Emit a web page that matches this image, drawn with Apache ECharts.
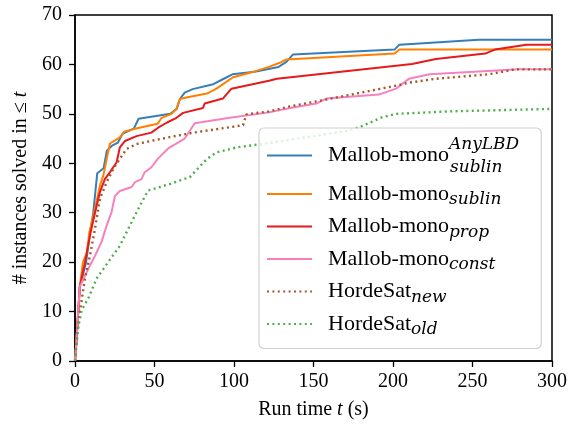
<!DOCTYPE html>
<html>
<head>
<meta charset="utf-8">
<script src="https://cdn.jsdelivr.net/npm/echarts@6/dist/echarts.min.js"></script>
<style>
  html, body { margin: 0; padding: 0; background: #fff; }
  #chart { width: 570px; height: 425px; }
</style>
</head>
<body>
<div id="chart"></div>
<script>
const FONT = "Liberation Serif";
const MATH = "DejaVu Serif";

// run time (s) and number of solved instances
const anyLbdT = [0, 0.5, 3, 7, 9.5, 11.5, 14, 18, 20, 23, 27, 30, 37, 40, 60, 64, 66, 69, 74, 87, 93, 99, 113, 128, 133, 137, 201, 204, 254, 300];
const anyLbdV = [0, 2, 15, 20, 26, 30, 38, 39, 42.5, 43.5, 44.2, 46, 47, 49, 50, 51, 53, 54.3, 55, 56, 57, 58, 58.5, 59.5, 60.5, 62, 63, 64, 65, 65];

const sublinT = [0, 0.5, 3, 5, 7.5, 9, 12, 15.7, 17.8, 20, 22, 28, 31, 37.7, 52, 54.5, 60.7, 63.8, 66, 70, 83, 89, 99.4, 110, 122, 130, 133, 201, 204, 300];
const sublinV = [0, 2, 15, 20, 22, 26, 30, 35.5, 37.5, 41, 44, 45.2, 46.4, 47, 48, 49.2, 50, 51, 53, 53.3, 54.1, 55.1, 57.4, 58.3, 59.5, 60.5, 61, 62.2, 63, 63];

const propT = [0, 0.5, 3, 6.3, 9.8, 12.6, 15.7, 18.8, 22, 26.2, 28.2, 31.4, 38.7, 48, 52.3, 57.6, 63.8, 68, 80.5, 81.6, 93, 98.4, 122, 127, 212, 227, 258, 264, 284, 300];
const propV = [0, 2, 15, 20, 26, 30, 34.2, 36.8, 38.2, 40.2, 43.2, 44.5, 45.5, 46.2, 47.2, 48.2, 49.2, 50.2, 51.2, 52.1, 53.1, 55.1, 56.7, 57.1, 60.1, 61.1, 62.2, 63, 64, 64];

const constT = [0, 0.5, 3, 6.3, 9.4, 12.6, 16.7, 19.9, 23, 25.1, 28.2, 35.6, 37.7, 41.8, 43.9, 48.1, 52.3, 58.6, 69, 75.3, 97.3, 122, 137, 152, 158, 191, 202, 210, 223, 279, 300];
const constV = [0, 2, 15, 17.3, 19.3, 21.3, 24.1, 27.4, 30.1, 33.4, 34.4, 35.2, 36.2, 36.8, 38.2, 39.2, 41, 43, 45, 48.1, 49.2, 50.3, 51.3, 52.1, 53.1, 53.9, 55.1, 57.1, 58, 59, 59];

const hsNewT = [0, 0.5, 2.7, 6.3, 9.4, 12.6, 15.7, 19.9, 25.1, 32.4, 38.7, 59.6, 74.3, 105.7, 107.8, 122, 135, 158, 202, 210, 227, 260, 277, 300];
const hsNewV = [0, 2, 9.3, 16.7, 21.3, 26.8, 32.8, 36.2, 39.4, 42.9, 43.9, 45.3, 46.2, 47.7, 49.9, 50.5, 51.5, 52.9, 55.7, 56.3, 57.1, 58, 59, 59];

const hsOldT = [0, 1.5, 4.2, 8.4, 13.6, 20.9, 28.2, 34.5, 40.8, 46, 59.6, 72.2, 82.7, 89, 101.5, 122, 150, 170, 179, 193, 202, 235, 300];
const hsOldV = [0, 6, 10.3, 12.7, 16.7, 20, 23.3, 27.4, 31.4, 34.5, 35.8, 37.2, 40.8, 42.2, 43.2, 44.1, 45.5, 46.5, 47.3, 49.3, 50, 50.5, 51];

const xTicks = [0, 50, 100, 150, 200, 250, 300];
const yTicks = [0, 10, 20, 30, 40, 50, 60, 70];

// legend labels (rich text)
const labels = {
  "Mallob-mono AnyLBD sublin": "{n|Mallob-mono}{sup|AnyLBD}{sub1|sublin}",
  "Mallob-mono sublin": "{n|Mallob-mono}{sub|sublin}",
  "Mallob-mono prop": "{n|Mallob-mono}{sub|prop}",
  "Mallob-mono const": "{n|Mallob-mono}{sub|const}",
  "HordeSat new": "{n|HordeSat}{sub|new}",
  "HordeSat old": "{n|HordeSat}{sub|old}"
};

const zip = (t, v) => t.map((x, i) => [x, v[i]]);

const mk = (name, t, v, color, dotted) => ({
  name: name,
  type: "line",
  data: zip(t, v),
  symbol: "none",
  color: color,
  lineStyle: {
    color: color,
    width: dotted ? 2.4 : 2,
    type: dotted ? [2, 3.4] : "solid",
    cap: "butt"
  },
  animation: false
});

const mathStyle = (pad, extra) => Object.assign({
  fontFamily: MATH, fontSize: 17, fontStyle: "italic", color: "#000", padding: pad
}, extra || {});

const chart = echarts.init(document.getElementById("chart"));

chart.setOption({
  animation: false,
  textStyle: { fontFamily: FONT },
  grid: {
    left: 75, right: 17, top: 15, bottom: 62,
    show: true, borderColor: "#000", borderWidth: 1.5
  },
  xAxis: {
    type: "value",
    min: xTicks[0], max: xTicks[xTicks.length - 1], interval: 50,
    name: "Run time {i|t} (s)",
    nameLocation: "middle",
    nameGap: 39,
    nameTextStyle: {
      fontFamily: FONT, fontSize: 20, color: "#000",
      rich: { i: { fontFamily: FONT, fontSize: 20, fontStyle: "italic", color: "#000" } }
    },
    axisLine: { lineStyle: { color: "#000", width: 1.5 } },
    axisTick: { length: 6, lineStyle: { color: "#000", width: 1.3 } },
    axisLabel: { fontFamily: FONT, fontSize: 20, color: "#000", margin: 11 },
    splitLine: { show: false }
  },
  yAxis: {
    type: "value",
    min: yTicks[0], max: yTicks[yTicks.length - 1], interval: 10,
    name: "# instances solved in \u2264 {i|t}",
    nameLocation: "middle",
    nameRotate: 90,
    nameGap: 41,
    nameTextStyle: {
      fontFamily: FONT, fontSize: 20, color: "#000",
      rich: { i: { fontFamily: FONT, fontSize: 20, fontStyle: "italic", color: "#000" } }
    },
    axisLine: { show: true, lineStyle: { color: "#000", width: 1.5 } },
    axisTick: { show: true, length: 6, lineStyle: { color: "#000", width: 1.3 } },
    axisLabel: { fontFamily: FONT, fontSize: 20, color: "#000", margin: 13 },
    splitLine: { show: false }
  },
  legend: {
    orient: "vertical",
    left: 259,
    top: 128,
    padding: [8, 22, 10, 7],
    itemGap: 7,
    itemWidth: 45,
    itemHeight: 14,
    backgroundColor: "rgba(255,255,255,0.8)",
    borderColor: "#d0d0d0",
    borderWidth: 1.2,
    borderRadius: 5,
    itemStyle: { opacity: 0 },
    formatter: (name) => labels[name],
    textStyle: {
      fontFamily: FONT,
      color: "#000",
      padding: [0, 0, 0, 11],
      rich: {
        n: { fontFamily: FONT, fontSize: 22, color: "#000" },
        sub: mathStyle([12, 0, 0, 0]),
        sup: mathStyle([0, 0, 22, 0], { width: 1 }),
        sub1: mathStyle([24, 0, 0, 0])
      }
    },
    data: Object.keys(labels)
  },
  series: [
    mk("Mallob-mono AnyLBD sublin", anyLbdT, anyLbdV, "#377eb8", false),
    mk("Mallob-mono sublin", sublinT, sublinV, "#ff7f00", false),
    mk("Mallob-mono prop", propT, propV, "#e41a1c", false),
    mk("Mallob-mono const", constT, constV, "#f781bf", false),
    mk("HordeSat new", hsNewT, hsNewV, "#a65628", true),
    mk("HordeSat old", hsOldT, hsOldV, "#4daf4a", true)
  ]
});
</script>
</body>
</html>
